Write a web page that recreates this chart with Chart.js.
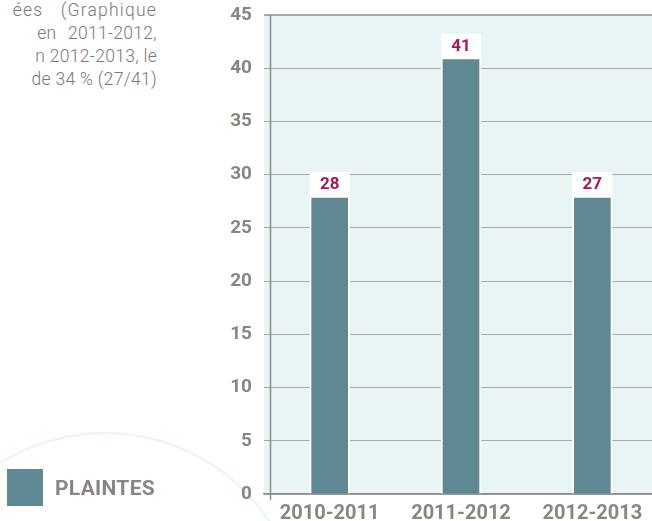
<!DOCTYPE html>
<html>
<head>
<meta charset="utf-8">
<script src="https://cdn.jsdelivr.net/npm/chart.js@4.4.1/dist/chart.umd.min.js"></script>
<style>
  html, body { margin: 0; padding: 0; background: #fff; overflow: hidden; }
  #wrap { position: relative; width: 652px; height: 521px; overflow: hidden; }
  #deco { position: absolute; left: 0; top: 0; }
  #intro {
    position: absolute; right: 495px; top: -1px;
    font-family: Roboto, "DejaVu Sans", sans-serif; font-weight: 300;
    font-size: 17.5px; line-height: 23px; color: #7d7873; letter-spacing: 0.3px;
    text-align: right; white-space: nowrap;
  }
  #legend { position: absolute; left: 7px; top: 469px; display: flex; align-items: center; }
  #legend .box { width: 36px; height: 37px; }
  #legend .txt {
    margin-left: 12px; font-family: Roboto, sans-serif; font-weight: 700;
    font-size: 21px; color: #8a8580; letter-spacing: 0.3px;
  }
  canvas { position: absolute; left: 0; top: 0; }
</style>
</head>
<body>
<div id="wrap">
  <svg id="deco" width="652" height="521">
    <circle cx="105" cy="630" r="197" fill="none" stroke="#e8f4f4" stroke-width="2"/>
  </svg>
  <div id="intro">
    <div style="letter-spacing:1.2px;word-spacing:12px">ées (Graphique</div>
    <div style="word-spacing:7px">en 2011-2012,</div>
    <div>n 2012-2013, le</div>
    <div>de 34 % (27/41)</div>
  </div>
  <canvas id="complaintsChart" width="658" height="521"></canvas>
  <div id="legend"></div>
</div>
<script>
// Data
const categories = ['2010-2011', '2011-2012', '2012-2013'];
const complaints = [28, 41, 28];          // bar heights as drawn
const complaintLabels = ['28', '41', '27']; // values printed above bars
const seriesName = 'PLAINTES';
const yMax = 45;
const yStep = 5;

const barColor = '#608893';
const greyText = '#8a8580';

document.addEventListener('DOMContentLoaded', () => {
    // HTML legend (sits left of the axis, outside the plot)
    const legend = document.getElementById('legend');
    legend.innerHTML = '<div class="box" style="background:' + barColor + '"></div>' +
                       '<div class="txt">' + seriesName + '</div>';

    // Light cyan plot background
    const plotBackground = {
        id: 'plotBackground',
        beforeDraw(chart) {
            const { ctx, chartArea: a } = chart;
            ctx.save();
            ctx.fillStyle = '#e9f5f5';
            ctx.fillRect(a.left, a.top, a.right - a.left, a.bottom - a.top);
            ctx.restore();
        }
    };

    // Vertical axis line, set a little inside the plot and running below it
    const yAxisLine = {
        id: 'yAxisLine',
        afterDatasetsDraw(chart) {
            const { ctx, chartArea: a } = chart;
            const x = Math.round(a.left + 6) + 0.5;
            ctx.save();
            ctx.strokeStyle = '#8c8c8c';
            ctx.lineWidth = 1.5;
            ctx.beginPath();
            ctx.moveTo(x, a.top);
            ctx.lineTo(x, a.bottom + 6);
            ctx.stroke();
            ctx.restore();
        }
    };

    // White label boxes above each bar
    const valueBoxes = {
        id: 'valueBoxes',
        afterDatasetsDraw(chart) {
            const { ctx } = chart;
            const meta = chart.getDatasetMeta(0);
            ctx.save();
            meta.data.forEach((bar, i) => {
                const w = bar.width;
                ctx.fillStyle = '#ffffff';
                ctx.fillRect(bar.x - w / 2, bar.y - 24, w, 24);
                ctx.fillStyle = '#a3195b';
                ctx.font = 'bold 17px Roboto, sans-serif';
                ctx.textAlign = 'center';
                ctx.textBaseline = 'middle';
                ctx.fillText(complaintLabels[i], bar.x, bar.y - 11);
            });
            ctx.restore();
        }
    };

    const ctx = document.getElementById('complaintsChart').getContext('2d');
    new Chart(ctx, {
        type: 'bar',
        data: {
            labels: categories,
            datasets: [{
                label: seriesName,
                data: complaints,
                backgroundColor: barColor,
                borderColor: '#ffffff',
                borderWidth: 2,
                barThickness: 40
            }]
        },
        options: {
            responsive: false,
            animation: false,
            layout: { padding: { top: 15, right: 0, bottom: 0, left: 0 } },
            plugins: {
                legend: { display: false },
                tooltip: { enabled: false }
            },
            scales: {
                y: {
                    min: 0,
                    max: yMax,
                    afterFit(scale) {
                        scale.width = 264;
                        scale.paddingTop = 0;
                        scale.paddingBottom = 0;
                    },
                    border: { display: false },
                    grid: {
                        drawTicks: false,
                        color: '#a9a9a9',
                        lineWidth: (c) => (c.tick && c.tick.value === yMax ? 2 : 1)
                    },
                    ticks: {
                        stepSize: yStep,
                        padding: 12,
                        color: greyText,
                        font: { family: 'Roboto', weight: 'bold', size: 19 }
                    }
                },
                x: {
                    afterFit(scale) {
                        scale.height = 27;
                        scale.paddingLeft = 0;
                        scale.paddingRight = 0;
                    },
                    border: { color: '#8c8c8c', width: 1.5 },
                    grid: { display: false, drawTicks: false },
                    ticks: {
                        padding: 8,
                        color: greyText,
                        font: { family: 'Roboto', weight: 'bold', size: 20 }
                    }
                }
            }
        },
        plugins: [plotBackground, yAxisLine, valueBoxes]
    });
});
</script>
</body>
</html>
